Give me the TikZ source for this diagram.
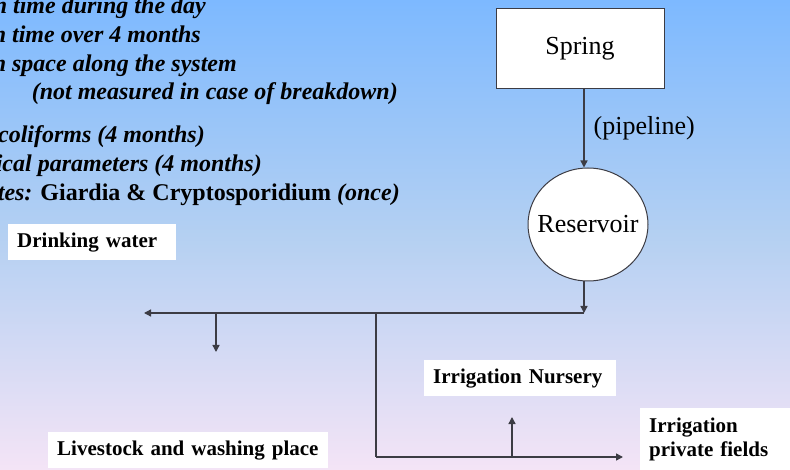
\documentclass[tikz,border=0pt]{standalone}
\usepackage{fontspec}
\setmainfont{Liberation Serif}
\usetikzlibrary{arrows.meta, positioning, shapes.geometric}
\definecolor{skytop}{RGB}{125, 185, 255}
\definecolor{skymid}{RGB}{180, 208, 242}
\definecolor{skybottom}{RGB}{244, 228, 246}
\definecolor{pipegray}{RGB}{60, 60, 68}
\tikzset{
  >=Triangle,
  pipearrow/.style={-{Triangle[length=7pt, width=7pt]}, line width=1.4pt, pipegray},
  pipeflow/.style={line width=1.4pt, pipegray}
}

\begin{document}
\begin{tikzpicture}[x=1pt, y=-1pt,
    srcnode/.style={draw=pipegray, fill=white, line width=1pt, inner sep=0pt, font=\fontsize{26}{30}\selectfont},
    usenode/.style={fill=white, anchor=north west, align=left, inner xsep=9pt, inner ysep=0pt, minimum height=36pt, font=\bfseries\fontsize{21}{24}\selectfont},
    notetext/.style={anchor=base east, inner sep=0pt, font=\bfseries\itshape\fontsize{24}{29}\selectfont}]

    % Background
    \useasboundingbox (0,0) rectangle (790,470);
    \shade[top color=skytop, bottom color=skybottom, middle color=skymid] (0,0) rectangle (790,470);

    % Notes (cut at the left edge)
    \node[notetext] (note1) at (206,14) {n time during the day};
    \node[notetext] (note2) at (201,43) {n time over 4 months};
    \node[notetext] (note3) at (237,72) {n space along the system};
    \node[notetext] (note4) at (398,100) {(not measured in case of breakdown)};
    \node[notetext] (note5) at (205,143) {coliforms (4 months)};
    \node[notetext] (note6) at (262,172) {ical parameters (4 months)};
    \node[notetext] (note7) at (400,201) {ites: \upshape Giardia \& Cryptosporidium \itshape(once)};

    % Source
    \node[srcnode, minimum width=168pt, minimum height=80pt] (spring) at (580,48.5) {Spring};
    \node[srcnode, ellipse, inner xsep=-25pt, minimum width=120pt, minimum height=113pt] (reservoir) at (588,224.5) {Reservoir};

    % Uses
    \node[usenode, text width=150pt] (drink) at (8,224) {Drinking water};
    \node[usenode, text width=262pt] (livestock) at (48,432) {Livestock and washing place};
    \node[usenode, text width=174pt] (nursery) at (424,360) {Irrigation Nursery};
    \node[usenode, text width=136pt, minimum height=62pt] (fields) at (640,408) {Irrigation\\private fields};

    % Network points
    \coordinate (split) at (584,313);
    \coordinate (drinkend) at (144,313);
    \coordinate (tapA) at (216,313);
    \coordinate (tapAend) at (216,352);
    \coordinate (teeB) at (376,313);
    \coordinate (corner) at (376,457);
    \coordinate (fieldend) at (623,457);
    \coordinate (tapC) at (512,457);
    \coordinate (tapCend) at (512,417);

    % Pipes
    \draw[pipearrow] (spring.south -| split) -- (reservoir.north -| split)
        node[midway, right=9pt, inner sep=0pt, text=black, font=\fontsize{26}{30}\selectfont] (pipe) {(pipeline)};
    \draw[pipearrow] (reservoir.south -| split) -- (split);
    \draw[pipearrow] (split) -- (drinkend);
    \draw[pipearrow] (tapA) -- (tapAend);
    \draw[pipeflow] (teeB) -- (corner);
    \draw[pipearrow] (corner) -- (fieldend);
    \draw[pipearrow] (tapC) -- (tapCend);

\end{tikzpicture}
\end{document}
